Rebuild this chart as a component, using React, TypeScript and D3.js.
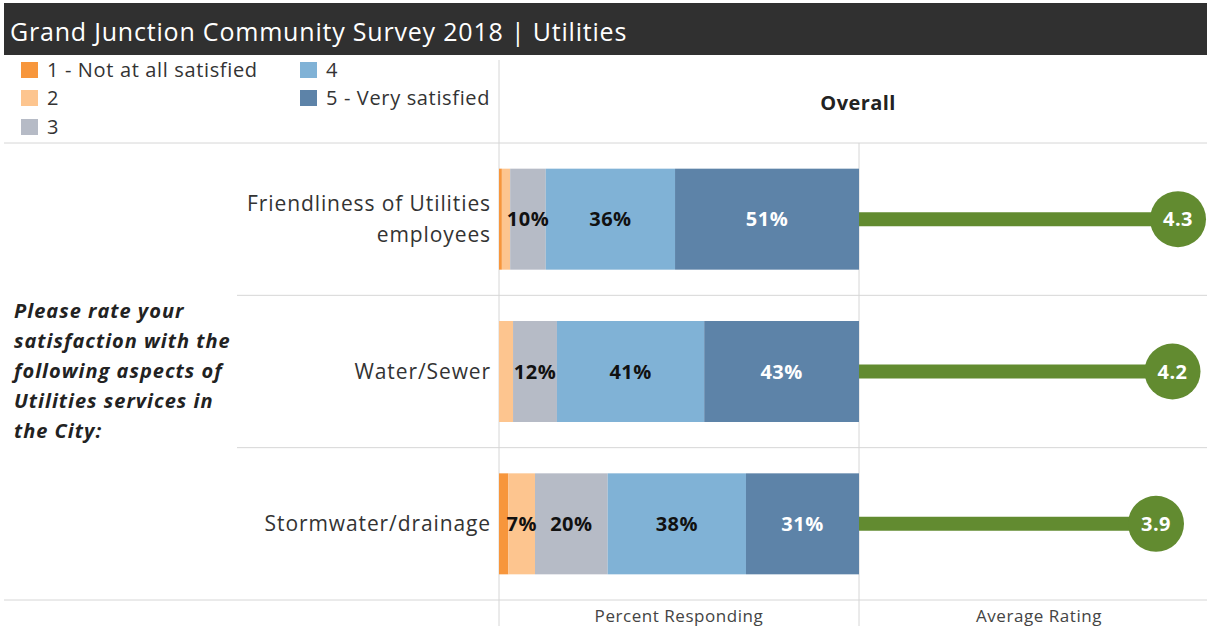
import React from 'react';
import * as d3 from 'd3';

// values
const title = 'Grand Junction Community Survey 2018 | Utilities';
const question = ['Please rate your', 'satisfaction with the', 'following aspects of', 'Utilities services in', 'the City:'];
const items = ['Friendliness of Utilities employees', 'Water/Sewer', 'Stormwater/drainage'];
const itemLines = [['Friendliness of Utilities', 'employees'], ['Water/Sewer'], ['Stormwater/drainage']];
const levels = ['1 - Not at all satisfied', '2', '3', '4', '5 - Very satisfied'];
const levelColors = ['#f7963c', '#fdc58f', '#b6bbc6', '#80b2d6', '#5d83a8'];
const pct1 = [0.8, 0, 2.6];
const pct2 = [2.3, 3.9, 7.4];
const pct3 = [9.9, 12.2, 20.2];
const pct4 = [35.9, 40.9, 38.4];
const pct5 = [51.1, 43.0, 31.4];
const avgRating = [4.3, 4.2, 3.9];

const W = 1207;
const H = 626;
const FONT = '"Open Sans", "Noto Sans", sans-serif';
const GRID = '#d6d6d6';
const GREEN = '#628b30';

const X0 = 499; // start of bar pane
const X1 = 859; // end of bar pane / start of rating pane
const TOP = 143;
const BOTTOM = 600;

const App: React.FC = () => {
  const table = items.map((q, i) => ({
    q,
    l1: pct1[i], l2: pct2[i], l3: pct3[i], l4: pct4[i], l5: pct5[i],
  }));
  const keys = ['l1', 'l2', 'l3', 'l4', 'l5'];
  const series = d3.stack<any>().keys(keys)(table);

  const y = d3.scaleBand().domain(items).range([TOP, BOTTOM]).paddingInner(0.337).paddingOuter(0.1685);
  const x = d3.scaleLinear().domain([0, 100]).range([X0, X1]);
  const r = d3.scaleLinear().domain([-1.5, 5]).range([X1, X1 + 6.5 * 55]);
  const color = d3.scaleOrdinal<string>().domain(keys).range(levelColors);
  const step = y.step();

  const legendPos = [
    { x: 21, y: 62 }, { x: 21, y: 90 }, { x: 21, y: 119 },
    { x: 300, y: 62 }, { x: 300, y: 90 },
  ];

  return (
    <svg width={W} height={H} style={{ display: 'block', position: 'absolute', left: 0, top: 0, fontFamily: FONT }}>
      <rect x={0} y={0} width={W} height={H} fill="#fff" />

      {/* title bar */}
      <rect x={4} y={3} width={W - 4} height={52} fill="#303030" />
      <text x={10} y={41} fill="#fff" fontSize={25} letterSpacing={0.8}>{title}</text>

      {/* legend */}
      {levels.map((lv, i) => (
        <g key={lv} transform={`translate(${legendPos[i].x},${legendPos[i].y})`}>
          <rect width={17} height={16} fill={levelColors[i]} />
          <text x={26} y={15} fontSize={20} letterSpacing={0.65} fill="#333">{lv}</text>
        </g>
      ))}

      {/* grid lines */}
      <line x1={4} x2={W} y1={TOP} y2={TOP} stroke={GRID} />
      <line x1={4} x2={W} y1={BOTTOM} y2={BOTTOM} stroke={GRID} />
      {[1, 2].map(i => (
        <line key={i} x1={237} x2={W} y1={TOP + i * step} y2={TOP + i * step} stroke={GRID} />
      ))}
      <line x1={X0} x2={X0} y1={60} y2={H} stroke={GRID} />
      <line x1={X1} x2={X1} y1={TOP} y2={H} stroke={GRID} />

      <text x={858} y={110} textAnchor="middle" fontSize={20} letterSpacing={0.4} fontWeight="bold" fill="#222">Overall</text>

      {/* question */}
      {question.map((ln, i) => (
        <text key={i} x={14} y={318 + i * 30} fontSize={20} letterSpacing={1} fontWeight="bold" fontStyle="italic" fill="#222">{ln}</text>
      ))}

      {/* item labels */}
      {items.map((q, i) => {
        const lines = itemLines[i];
        const cy = y(q)! + y.bandwidth() / 2;
        return lines.map((ln, j) => (
          <text key={q + j} x={491} y={cy + 7 + (j - (lines.length - 1) / 2) * 31}
            textAnchor="end" fontSize={21} letterSpacing={0.9} fill="#333">{ln}</text>
        ));
      })}

      {/* stacked bars */}
      {series.map(s => (
        <g key={s.key} fill={color(s.key)}>
          {s.map((d, i) => (
            <rect key={i} x={x(d[0])} y={y(items[i])} width={x(d[1]) - x(d[0])} height={y.bandwidth()} />
          ))}
        </g>
      ))}
      {series.map(s => s.map((d, i) => {
        const v = d[1] - d[0];
        if (v < 5) return null;
        return (
          <text key={s.key + i} x={(x(d[0]) + x(d[1])) / 2} y={y(items[i])! + y.bandwidth() / 2 + 7}
            textAnchor="middle" fontSize={20} letterSpacing={0.5} fontWeight="bold" fill={s.key === 'l5' ? '#fff' : '#111'}>
            {Math.round(v)}%
          </text>
        );
      }))}

      {/* average rating lollipops */}
      {avgRating.map((v, i) => {
        const cy = y(items[i])! + y.bandwidth() / 2;
        return (
          <g key={i}>
            <line x1={r(-1.5)} x2={r(v)} y1={cy} y2={cy} stroke={GREEN} strokeWidth={14} />
            <circle cx={r(v)} cy={cy} r={28} fill={GREEN} />
            <text x={r(v)} y={cy + 7} textAnchor="middle" fontSize={20} letterSpacing={0.4} fontWeight="bold" fill="#fff">{v.toFixed(1)}</text>
          </g>
        );
      })}

      {/* pane captions */}
      <text x={(X0 + X1) / 2} y={622} textAnchor="middle" fontSize={17} letterSpacing={0.55} fill="#444">Percent Responding</text>
      <text x={1039} y={622} textAnchor="middle" fontSize={17} letterSpacing={0.55} fill="#444">Average Rating</text>
    </svg>
  );
};

export default App;
